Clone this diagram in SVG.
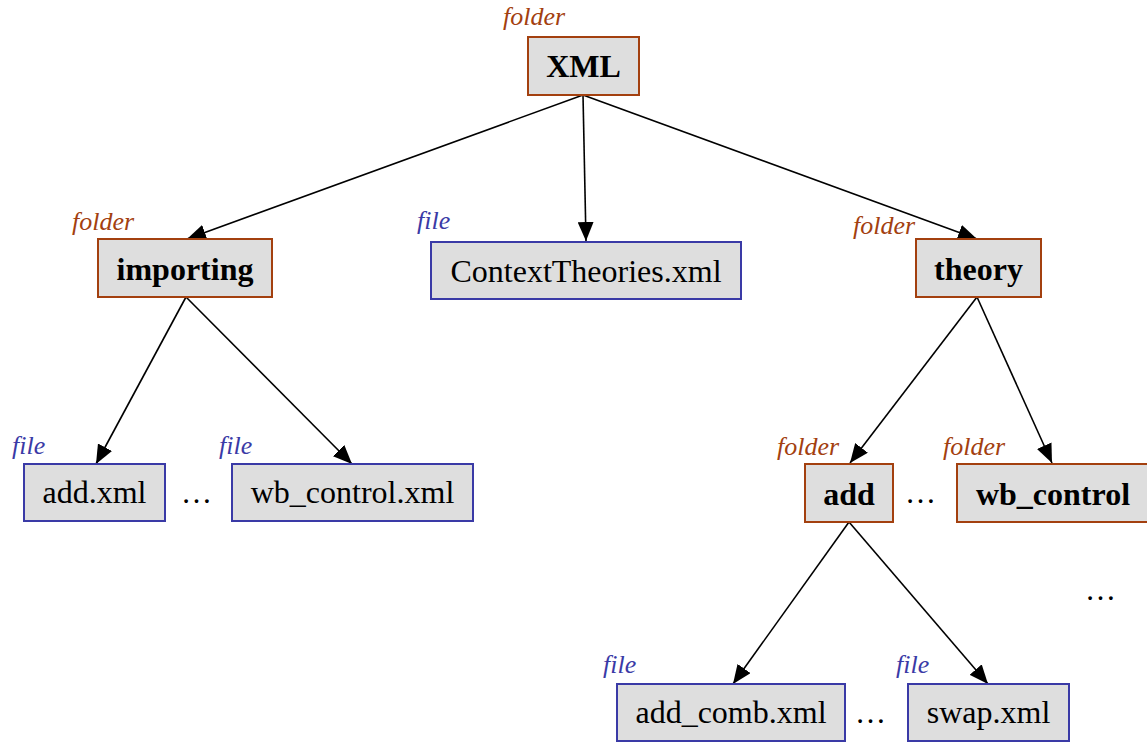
<svg xmlns="http://www.w3.org/2000/svg" width="1147" height="742" viewBox="0 0 1147 742">
<style>
.box{fill:#dedede;stroke-width:2}
.folder{stroke:#a3400f}
.file{stroke:#3a3aa6}
.name{font-family:"Liberation Serif","Times New Roman",serif;font-size:32px;fill:#000;text-anchor:middle}
.bold{font-weight:bold}
.tag{font-family:"Liberation Serif","Times New Roman",serif;font-size:26px;font-style:italic}
.ftag{fill:#a3400f}
.itag{fill:#3a3aa6}
.dots{font-family:"Liberation Serif","Times New Roman",serif;font-size:31px;fill:#000}
.edge{stroke:#000;stroke-width:1.6;fill:none;marker-end:url(#arr)}
</style>
<defs>
<marker id="arr" markerUnits="userSpaceOnUse" markerWidth="19" markerHeight="16" viewBox="0 0 19 16" refX="19" refY="8" orient="auto">
<path d="M0,0 L19,8 L0,16 z" fill="#000"/>
</marker>
</defs>
<rect width="1147" height="742" fill="#fff"/>
<g id="connectors">
<line class="edge" x1="583" y1="95" x2="187" y2="239"/>
<line class="edge" x1="583" y1="95" x2="586" y2="241"/>
<line class="edge" x1="583" y1="95" x2="977" y2="239"/>
<line class="edge" x1="186" y1="297" x2="96" y2="464"/>
<line class="edge" x1="186" y1="297" x2="352" y2="464"/>
<line class="edge" x1="977" y1="297" x2="850" y2="463"/>
<line class="edge" x1="977" y1="297" x2="1052" y2="463"/>
<line class="edge" x1="849" y1="522" x2="733" y2="684"/>
<line class="edge" x1="849" y1="522" x2="988" y2="684"/>
</g>
<g id="node-xml">
<text class="tag ftag" x="503" y="25">folder</text>
<rect class="box folder" x="528" y="37" width="111" height="58"/>
<text class="name bold" x="583.5" y="77">XML</text>
</g>
<g id="node-importing">
<text class="tag ftag" x="72" y="230">folder</text>
<rect class="box folder" x="98" y="239" width="174" height="58"/>
<text class="name bold" x="185" y="280">importing</text>
</g>
<g id="node-contexttheories">
<text class="tag itag" x="417" y="229">file</text>
<rect class="box file" x="431" y="242" width="310" height="57"/>
<text class="name" x="586" y="282">ContextTheories.xml</text>
</g>
<g id="node-theory">
<text class="tag ftag" x="853" y="234">folder</text>
<rect class="box folder" x="916" y="239" width="125" height="58"/>
<text class="name bold" x="978.5" y="280">theory</text>
</g>
<g id="node-add-xml">
<text class="tag itag" x="12" y="454">file</text>
<rect class="box file" x="24" y="464" width="141" height="57"/>
<text class="name" x="94.5" y="503">add.xml</text>
</g>
<text class="dots" x="181" y="503">…</text>
<g id="node-wb-control-xml">
<text class="tag itag" x="219" y="454">file</text>
<rect class="box file" x="232" y="464" width="241" height="57"/>
<text class="name" x="352.5" y="503">wb_control.xml</text>
</g>
<g id="node-add">
<text class="tag ftag" x="777" y="455">folder</text>
<rect class="box folder" x="805" y="464" width="88" height="58"/>
<text class="name bold" x="849" y="505">add</text>
</g>
<text class="dots" x="905" y="503">…</text>
<g id="node-wb-control">
<text class="tag ftag" x="943" y="455">folder</text>
<rect class="box folder" x="957" y="464" width="200" height="58"/>
<text class="name bold" x="1053" y="505">wb_control</text>
</g>
<text class="dots" x="1085" y="600">…</text>
<g id="node-add-comb">
<text class="tag itag" x="603" y="673">file</text>
<rect class="box file" x="617" y="684" width="228" height="57"/>
<text class="name" x="731" y="723">add_comb.xml</text>
</g>
<text class="dots" x="855" y="723">…</text>
<g id="node-swap">
<text class="tag itag" x="896" y="673">file</text>
<rect class="box file" x="908" y="684" width="161" height="57"/>
<text class="name" x="988.5" y="723">swap.xml</text>
</g>
</svg>
